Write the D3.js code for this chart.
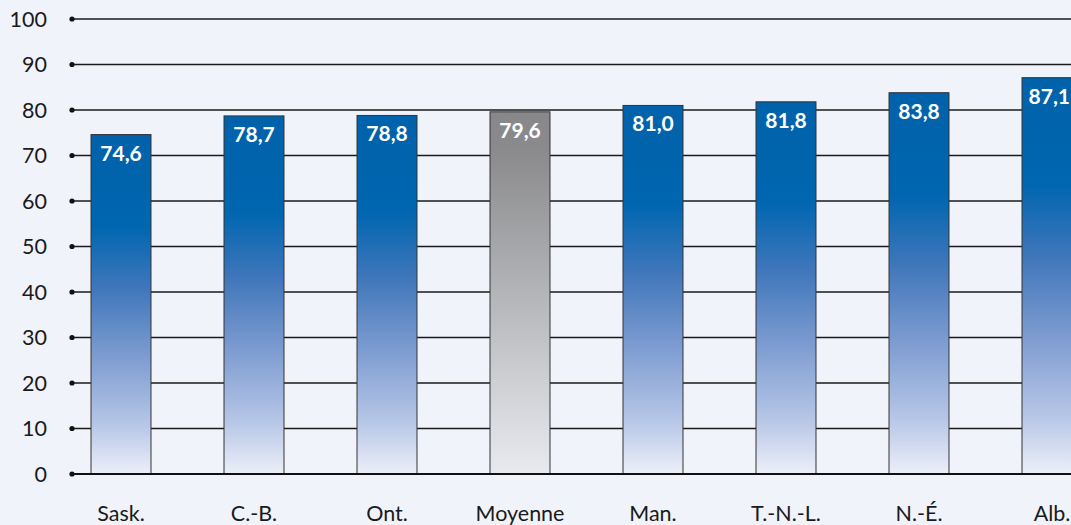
<!DOCTYPE html>
<html>
<head>
<meta charset="utf-8">
<script src="https://cdn.jsdelivr.net/npm/d3@7"></script>
<style>
  html, body { margin: 0; padding: 0; background: #f0f3fa; }
  svg { display: block; }
  text { font-family: Lato, "Open Sans", sans-serif; }
</style>
</head>
<body>
<svg id="chart" width="1071" height="525"></svg>
<script>
// Provinces, sorted by value; "Moyenne" is the national average
const categories = ["Sask.", "C.-B.", "Ont.", "Moyenne", "Man.", "T.-N.-L.", "N.-É.", "Alb."];
const values = [74.6, 78.7, 78.8, 79.6, 81.0, 81.8, 83.8, 87.1];
const labels = ["74,6", "78,7", "78,8", "79,6", "81,0", "81,8", "83,8", "87,1"];
const yTicks = [0, 10, 20, 30, 40, 50, 60, 70, 80, 90, 100];
const averageCategory = "Moyenne";

const svg = d3.select("#chart");
const W = 1071, H = 525;

const x = d3.scaleBand()
  .domain(categories)
  .range([54.5, 1118.5])
  .paddingInner(0.549)
  .paddingOuter(0.2745);

const y = d3.scaleLinear().domain([0, 100]).range([474, 19]);

// Gradients (per bar bounding box)
const defs = svg.append("defs");
const blue = defs.append("linearGradient").attr("id", "gBlue")
  .attr("x1", 0).attr("y1", 0).attr("x2", 0).attr("y2", 1);
[[0, "#0062aa"], [0.27, "#0066b0"], [0.45, "#3f76ba"], [0.65, "#7c9bd0"], [0.85, "#b5c5e6"], [1, "#eceff8"]]
  .forEach(([o, c]) => blue.append("stop").attr("offset", o).attr("stop-color", c));
const grey = defs.append("linearGradient").attr("id", "gGrey")
  .attr("x1", 0).attr("y1", 0).attr("x2", 0).attr("y2", 1);
[[0, "#88888a"], [0.1, "#8a8a8c"], [0.45, "#aeafb2"], [0.75, "#ced0d4"], [1, "#e8eaf0"]]
  .forEach(([o, c]) => grey.append("stop").attr("offset", o).attr("stop-color", c));

// Horizontal grid lines with dotted tick ends
const grid = svg.append("g");
grid.selectAll("line").data(yTicks).join("line")
  .attr("x1", 72).attr("x2", W)
  .attr("y1", d => y(d)).attr("y2", d => y(d))
  .attr("stroke", "#1a1a1a").attr("stroke-width", 1.3);
grid.selectAll("circle").data(yTicks).join("circle")
  .attr("cx", 72).attr("cy", d => y(d)).attr("r", 2.6).attr("fill", "#111");
grid.selectAll("text").data(yTicks).join("text")
  .attr("x", 47).attr("y", d => y(d)).attr("dy", "0.36em")
  .attr("text-anchor", "end").attr("font-size", 21.5).attr("fill", "#1a1a1a")
  .text(d => d);

// Bars
svg.append("g").selectAll("rect").data(categories).join("rect")
  .attr("x", d => x(d))
  .attr("y", (d, i) => y(values[i]))
  .attr("width", x.bandwidth())
  .attr("height", (d, i) => y(0) - y(values[i]))
  .attr("fill", d => d === averageCategory ? "url(#gGrey)" : "url(#gBlue)")
  .attr("stroke", "#333").attr("stroke-width", 1);

// Baseline
svg.append("line").attr("x1", 72).attr("x2", W)
  .attr("y1", y(0)).attr("y2", y(0))
  .attr("stroke", "#111").attr("stroke-width", 1.8);

// Value labels inside bar tops, kept inside the viewport at the right edge
svg.append("g").selectAll("text").data(categories).join("text")
  .attr("x", d => x(d) + x.bandwidth() / 2)
  .attr("y", (d, i) => y(values[i]) + 26)
  .attr("text-anchor", "middle")
  .attr("font-size", 21).attr("font-weight", "bold").attr("fill", "#fff")
  .text((d, i) => labels[i])
  .each(function () {
    const el = d3.select(this);
    const half = this.getComputedTextLength() / 2;
    const cx = +el.attr("x");
    if (cx + half > W - 1) el.attr("x", W - 1 - half);
  });

// Category labels
svg.append("g").selectAll("text").data(categories).join("text")
  .attr("x", d => x(d) + x.bandwidth() / 2)
  .attr("y", 521)
  .attr("text-anchor", "middle")
  .attr("font-size", 21.5).attr("fill", "#1a1a1a")
  .text(d => d);
</script>
</body>
</html>
